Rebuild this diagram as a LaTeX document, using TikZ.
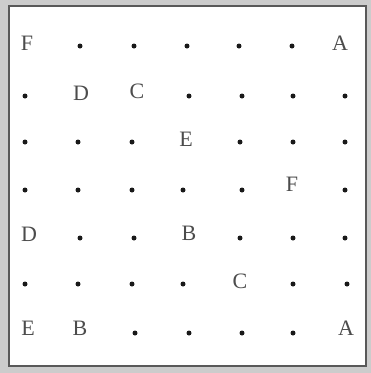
\documentclass[tikz,border=0pt]{standalone}
\usepackage{fontspec}
\setmainfont{Liberation Serif}
\usetikzlibrary{positioning}

\begin{document}
\begin{tikzpicture}[
  x=1pt, y=-1pt,
  letter/.style = {inner sep=0pt, font=\fontsize{22}{24}\selectfont,
                   text=black!70},
  pt/.style     = {circle, fill=black!90, inner sep=0pt, minimum size=5pt},
]
  % frame
  \useasboundingbox (0,0) rectangle (371,373);
  \fill[gray!40] (0,0) rectangle (371,373);
  \fill[white] (9,6) rectangle (366,366);
  \draw[black!65, line width=1.8pt] (9,6) rectangle (366,366);

  % letters on the grid
  \node[letter] (F1) at (27,43)  {F};
  \node[letter] (A1) at (340,43) {A};
  \node[letter] (D1) at (81,93)  {D};
  \node[letter] (C1) at (137,91) {C};
  \node[letter] (E1) at (186,139){E};
  \node[letter] (F2) at (292,184){F};
  \node[letter] (D2) at (29,234) {D};
  \node[letter] (B1) at (189,233){B};
  \node[letter] (C2) at (240,281){C};
  \node[letter] (E2) at (28,328) {E};
  \node[letter] (B2) at (80,328) {B};
  \node[letter] (A2) at (346,328){A};

  % dots
  \foreach \c/\r in {80/46, 134/46, 187/46, 239/46, 292/46,
                     25/96, 189/96, 242/96, 293/96, 345/96,
                     25/142, 78/142, 132/142, 240/142, 293/142, 345/142,
                     25/190, 78/190, 132/190, 183/190, 242/190, 345/190,
                     80/238, 134/238, 240/238, 293/238, 345/238,
                     25/284, 78/284, 132/284, 183/284, 293/284, 347/284,
                     135/333, 189/333, 242/333, 293/333}
    \node[pt] (d-\c-\r) at (\c,\r) {};
\end{tikzpicture}
\end{document}
